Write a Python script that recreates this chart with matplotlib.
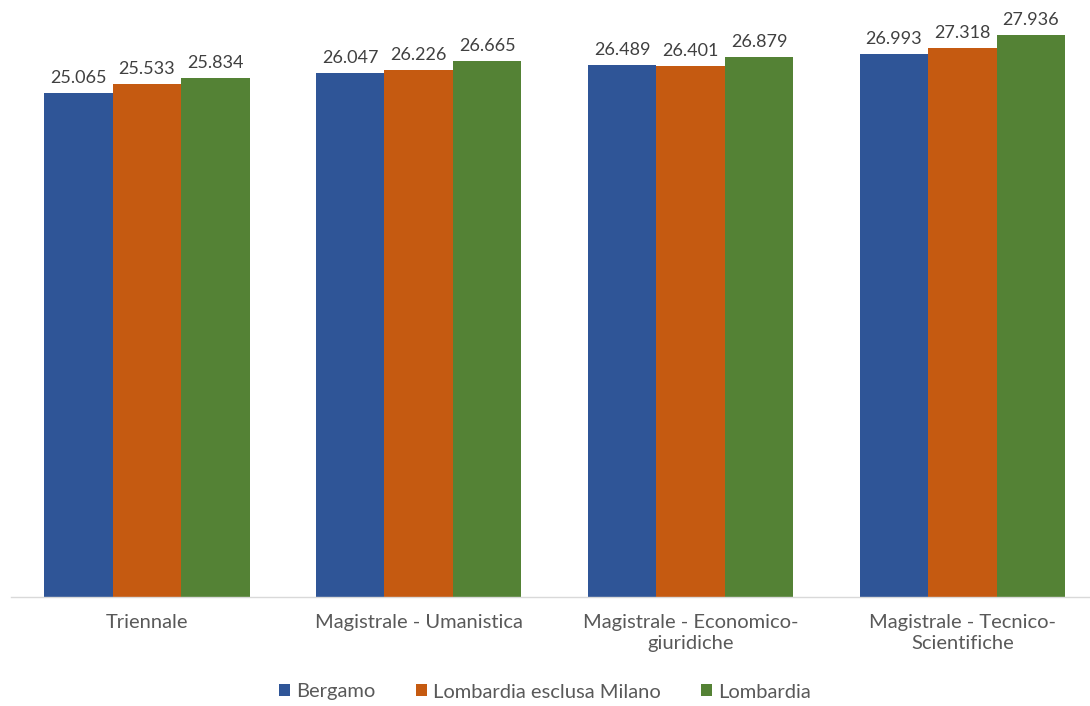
import matplotlib
matplotlib.use('Agg')
import matplotlib.pyplot as plt
import numpy as np

plt.rcParams['font.family'] = ['Lato', 'DejaVu Sans']

categories = ['Triennale', 'Magistrale - Umanistica',
              'Magistrale - Economico-\ngiuridiche', 'Magistrale - Tecnico-\nScientifiche']
series = ['Bergamo', 'Lombardia esclusa Milano', 'Lombardia']
bergamo = [25.065, 26.047, 26.489, 26.993]
lomb_no_mi = [25.533, 26.226, 26.401, 27.318]
lombardia = [25.834, 26.665, 26.879, 27.936]
colors = ['#2F5597', '#C55A11', '#548235']

fig = plt.figure(figsize=(10.9, 7.06), dpi=100)
ax = fig.add_axes([11 / 1090, 109 / 706, 1079 / 1090, 597 / 706])

x = np.arange(len(categories))
w = 0.252
for i, (vals, name, c) in enumerate(zip([bergamo, lomb_no_mi, lombardia], series, colors)):
    pos = x + (i - 1) * w
    bars = ax.bar(pos, vals, width=w, color=c, label=name, edgecolor='none')
    for b, v in zip(bars, vals):
        ax.text(b.get_x() + b.get_width() / 2, v + 0.35, f'{v:.3f}',
                ha='center', va='bottom', fontsize=13, color='#404040')

ax.set_xlim(-0.5, 3.47)
ax.set_ylim(0, 29.7)
ax.set_yticks([])
ax.set_xticks(x)
ax.set_xticklabels(categories, fontsize=14.5, color='#595959', linespacing=1.3)
ax.tick_params(axis='x', length=0, pad=12)
for s in ['top', 'right', 'left']:
    ax.spines[s].set_visible(False)
ax.spines['bottom'].set_color('#d9d9d9')
ax.spines['bottom'].set_linewidth(1)

fig.legend(loc='center', bbox_to_anchor=(0.5, 1 - 692 / 706), ncol=3, frameon=False,
           fontsize=14.5, handlelength=0.55, handleheight=0.55, handletextpad=0.3,
           columnspacing=2.0, labelcolor='#595959')

fig.savefig('out.png', dpi=100)
